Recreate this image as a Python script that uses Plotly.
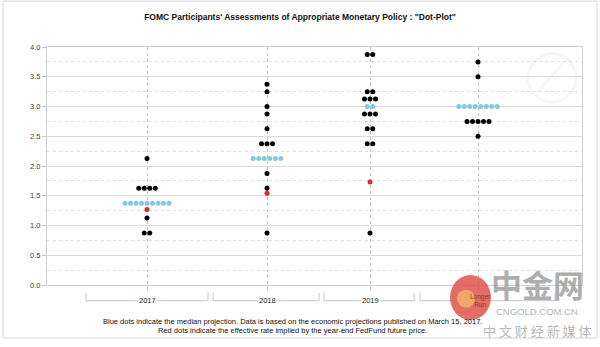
import plotly.graph_objects as go

# FOMC March 2017 projections: target rate levels and number of participants at each
years = ["2017", "2018", "2019", "Longer Run"]

rates_2017 = [2.125, 1.625, 1.125, 0.875]
counts_2017 = [1, 4, 1, 2]
rates_2018 = [3.375, 3.25, 3.0, 2.875, 2.625, 2.375, 1.875, 1.625, 0.875]
counts_2018 = [1, 1, 1, 1, 1, 3, 1, 1, 1]
rates_2019 = [3.875, 3.25, 3.125, 2.875, 2.625, 2.375, 0.875]
counts_2019 = [2, 2, 3, 3, 2, 2, 1]
rates_lr = [3.75, 3.5, 2.75, 2.5]
counts_lr = [1, 1, 5, 1]

median_rates = [1.375, 2.125, 3.0, 3.0]
median_counts = [9, 6, 2, 8]

# year-end fed funds futures implied rate
futures_rates = [1.27, 1.54, 1.73]

y_ticks = [0.0, 0.5, 1.0, 1.5, 2.0, 2.5, 3.0, 3.5, 4.0]

# layout helpers (horizontal axis is in pixel-like units)
CAT_X = [100, 220, 323, 431]
DOT_STEP = 5.5
BRACKETS = [(39, 161), (166, 272), (277, 367), (373, 508)]
LABEL_X = [100, 220, 323, 433]


def spread(center, levels, counts):
    xs, ys = [], []
    for lvl, n in zip(levels, counts):
        for k in range(n):
            xs.append(center + (k - (n - 1) / 2) * DOT_STEP)
            ys.append(lvl)
    return xs, ys


fig = go.Figure()

black_x, black_y = [], []
for cx, lv, ct in zip(CAT_X, [rates_2017, rates_2018, rates_2019, rates_lr],
                      [counts_2017, counts_2018, counts_2019, counts_lr]):
    xs, ys = spread(cx, lv, ct)
    black_x += xs
    black_y += ys

blue_x, blue_y = [], []
for cx, m, n in zip(CAT_X, median_rates, median_counts):
    xs, ys = spread(cx, [m], [n])
    blue_x += xs
    blue_y += ys

fig.add_trace(go.Scatter(x=black_x, y=black_y, mode="markers",
                         marker=dict(color="#000000", size=5, line=dict(width=0)),
                         hoverinfo="skip", showlegend=False))
fig.add_trace(go.Scatter(x=blue_x, y=blue_y, mode="markers",
                         marker=dict(color="#86c8e0", size=5, line=dict(width=0)),
                         hoverinfo="skip", showlegend=False))
fig.add_trace(go.Scatter(x=CAT_X[:len(futures_rates)], y=futures_rates, mode="markers",
                         marker=dict(color="#e0262b", size=5, line=dict(width=0)),
                         hoverinfo="skip", showlegend=False))

shapes = []
# category brackets under the axis
for x0, x1 in BRACKETS:
    for seg in ([(x0, -0.032), (x0, -0.066)], [(x1, -0.032), (x1, -0.066)],
                [(x0, -0.066), (x1, -0.066)]):
        shapes.append(dict(type="line", xref="x", yref="paper",
                           x0=seg[0][0], y0=seg[0][1], x1=seg[1][0], y1=seg[1][1],
                           line=dict(color="#c4c4c4", width=1)))

# outer frame
shapes.append(dict(type="rect", xref="paper", yref="paper",
                   x0=-0.0822, x1=1.028, y0=-0.2227, y1=1.193,
                   line=dict(color="#d6d6d6", width=1), layer="below"))

# faint logo mark at top right
shapes.append(dict(type="circle", xref="x", yref="paper",
                   x0=481, x1=529, y0=0.769, y1=0.971,
                   line=dict(color="rgba(200,208,220,0.2)", width=3)))
shapes.append(dict(type="line", xref="x", yref="paper",
                   x0=490, x1=518, y0=0.81, y1=0.94,
                   line=dict(color="rgba(200,208,220,0.2)", width=2)))

# watermark badge
shapes.append(dict(type="circle", xref="x", yref="paper",
                   x0=403, x1=444, y0=-0.147, y1=0.042,
                   fillcolor="rgba(222,78,68,0.82)", line=dict(width=0), layer="above"))
shapes.append(dict(type="circle", xref="x", yref="paper",
                   x0=410, x1=428, y0=-0.095, y1=-0.02,
                   fillcolor="rgba(246,190,110,0.75)", line=dict(width=0), layer="above"))

annotations = []
for lx, yr in zip(LABEL_X, years):
    annotations.append(dict(x=lx, y=-0.066, xref="x", yref="paper",
                            text=yr.replace(" ", "<br>") if yr == "Longer Run" else yr,
                            showarrow=False, bgcolor="white" if yr != "Longer Run" else None,
                            font=dict(size=7.5 if yr != "Longer Run" else 6.5,
                                      color="#222222" if yr != "Longer Run" else "#8a3a20",
                                      family="Liberation Sans"),
                            xanchor="center", yanchor="middle", borderpad=0))

annotations.append(dict(x=0.458, y=-0.155, xref="paper", yref="paper",
                        text="Blue dots indicate the median projection. Data is based on the economic projections published on March 15, 2017.",
                        showarrow=False, font=dict(size=7.5, color="#111111", family="Liberation Sans"),
                        xanchor="center", yanchor="middle"))
annotations.append(dict(x=0.458, y=-0.193, xref="paper", yref="paper",
                        text="Red dots indicate the effective rate implied by the year-end FedFund future price.",
                        showarrow=False, font=dict(size=7.5, color="#111111", family="Liberation Sans"),
                        xanchor="center", yanchor="middle"))

# watermark text
annotations.append(dict(x=490, y=0.008, xref="x", yref="paper", text="<b>中金网</b>",
                        showarrow=False, font=dict(size=31, color="rgba(160,160,160,0.85)",
                                                    family="Noto Sans CJK SC"),
                        xanchor="center", yanchor="middle"))
annotations.append(dict(x=490, y=-0.113, xref="x", yref="paper", text="CNGOLD.COM.CN",
                        showarrow=False, font=dict(size=9.5, color="#b4b4b4", family="Liberation Sans"),
                        xanchor="center", yanchor="middle"))
annotations.append(dict(x=490, y=-0.193, xref="x", yref="paper", text="中 文 财 经 新 媒 体",
                        showarrow=False, font=dict(size=13, color="#b8b8b8", family="Noto Sans CJK SC"),
                        xanchor="center", yanchor="middle"))

fig.update_layout(
    width=600, height=347,
    margin=dict(l=47, r=18, t=47, b=62),
    paper_bgcolor="white", plot_bgcolor="white",
    title=dict(text="<b>FOMC Participants' Assessments of Appropriate Monetary Policy : \"Dot-Plot\"</b>",
               x=0.5, xref="container", xanchor="center",
               y=1 - 17 / 347, yref="container", yanchor="middle",
               font=dict(size=8.5, color="#111111", family="Liberation Sans")),
    xaxis=dict(range=[0, 535], tickvals=CAT_X, showticklabels=False,
               showgrid=True, gridcolor="#c4c4c4", griddash="dot", gridwidth=1,
               zeroline=False, showline=True, linecolor="#cfcfcf", mirror=True,
               ticks="outside", ticklen=4, tickcolor="#c4c4c4", fixedrange=True),
    yaxis=dict(range=[0, 4], tickvals=y_ticks, ticktext=[f"{v:.1f}" for v in y_ticks],
               showgrid=True, gridcolor="#dcdcdc", gridwidth=1,
               zeroline=False, showline=True, linecolor="#cfcfcf", mirror=True,
               ticks="outside", ticklen=4, tickcolor="#c4c4c4",
               tickfont=dict(size=7.5, color="#444444", family="Liberation Sans"),
               minor=dict(dtick=0.25, tick0=0, showgrid=True, gridcolor="#e0e0e0",
                          griddash="dot", ticks=""),
               fixedrange=True),
    shapes=shapes,
    annotations=annotations,
)

fig.write_html("out.html")
